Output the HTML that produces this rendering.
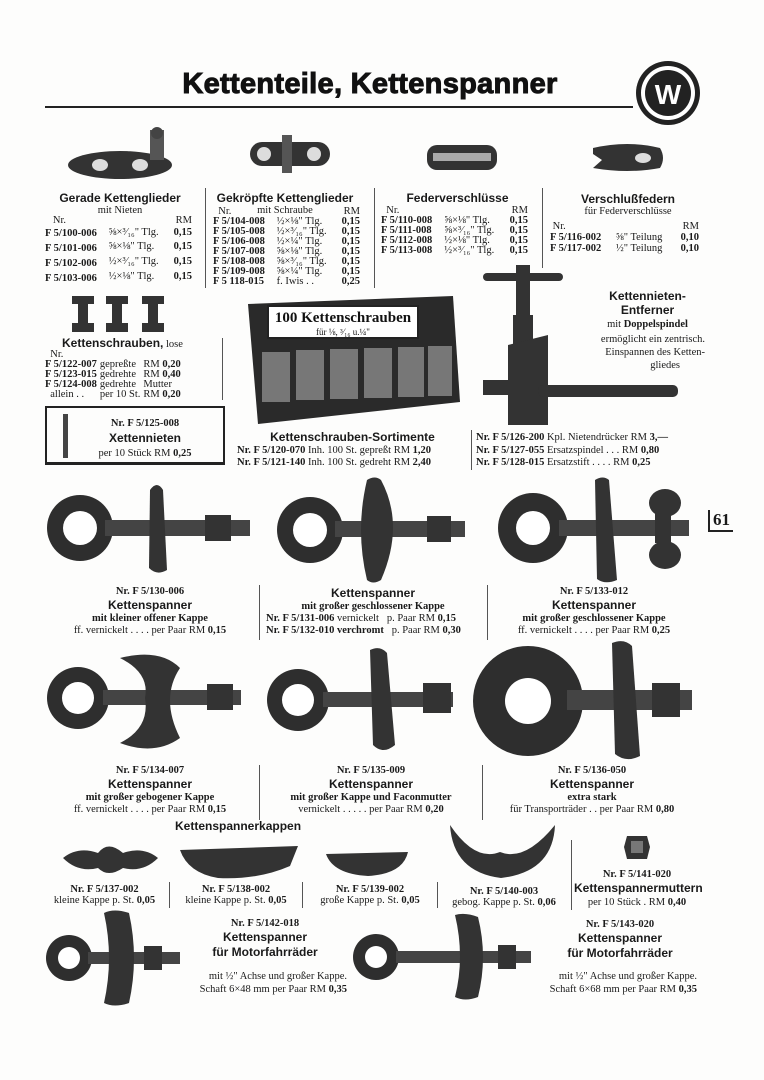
<!DOCTYPE html>
<html><head><meta charset="utf-8"><style>
body{margin:0;background:#fff;}
#p{position:relative;width:764px;height:1080px;overflow:hidden;background:#fdfdfc;font-family:"Liberation Serif",serif;color:#1a1a1a;}
.a{position:absolute;white-space:nowrap;font-size:10.5px;line-height:11px;}
.c{text-align:center;}
.h{font-family:"Liberation Sans",sans-serif;font-weight:bold;font-size:12px;line-height:14px;}
.b{font-weight:bold;}
.v{position:absolute;width:1px;background:#555;}
table{border-collapse:collapse;font-size:10.5px;line-height:11px;}
td{padding:0 3px 0 0;white-space:nowrap;}
svg{position:absolute;}
</style></head><body><div id="p">

<div class="a" style="left:170px;top:66px;width:400px;text-align:center;font-family:'Liberation Sans',sans-serif;font-weight:bold;font-size:29px;line-height:36px;color:#111;letter-spacing:0.3px;-webkit-text-stroke:1px #111;">Kettenteile, Kettenspanner</div>
<div style="position:absolute;left:45px;top:106px;width:588px;height:2px;background:#222"></div>
<svg style="left:634px;top:60px" width="70" height="70"><circle cx="34" cy="33" r="32" fill="#222"/><circle cx="34" cy="33" r="27" fill="#fff"/><circle cx="34" cy="33" r="23" fill="#222"/><text x="34" y="44" text-anchor="middle" font-family="Liberation Sans" font-weight="bold" font-size="28" fill="#fff">W</text></svg>

<svg style="left:60px;top:125px" width="120" height="60"><ellipse cx="60" cy="40" rx="52" ry="14" fill="#333"/><ellipse cx="40" cy="40" rx="8" ry="6" fill="#ddd"/><ellipse cx="80" cy="40" rx="8" ry="6" fill="#ddd"/><rect x="90" y="5" width="14" height="30" fill="#555"/><circle cx="97" cy="8" r="6" fill="#444"/></svg>
<svg style="left:242px;top:130px" width="95" height="50"><rect x="8" y="12" width="80" height="24" rx="12" fill="#333"/><circle cx="22" cy="24" r="7" fill="#ddd"/><circle cx="72" cy="24" r="7" fill="#ddd"/><rect x="40" y="5" width="10" height="38" fill="#555"/></svg>
<svg style="left:425px;top:140px" width="75" height="35"><rect x="2" y="5" width="70" height="25" rx="10" fill="#333"/><rect x="8" y="13" width="58" height="8" fill="#aaa"/></svg>
<svg style="left:588px;top:140px" width="80" height="35"><path d="M5 8 Q40 0 72 8 Q78 18 72 28 Q40 34 5 28 L14 20 L5 14 Z" fill="#333"/><ellipse cx="55" cy="18" rx="8" ry="5" fill="#ddd"/></svg>

<div class="v" style="left:205px;top:188px;height:100px"></div>
<div class="v" style="left:374px;top:188px;height:100px"></div>
<div class="v" style="left:542px;top:188px;height:80px"></div>

<div class="a c" style="left:45px;top:191px;width:150px"><span class="h">Gerade Kettenglieder</span><br>mit Nieten</div>
<table class="a" style="left:45px;top:215px;width:150px"><tr><td>&nbsp;&nbsp;&nbsp;Nr.</td><td></td><td style="text-align:right">RM</td></tr>
<tr><td class="b" style="padding-top:2px">F 5/100-006</td><td>⅝×³⁄₁₆" Tlg.</td><td class="b" style="text-align:right">0,15</td></tr>
<tr><td class="b" style="padding-top:4px">F 5/101-006</td><td>⅝×⅛" Tlg.</td><td class="b" style="text-align:right">0,15</td></tr>
<tr><td class="b" style="padding-top:4px">F 5/102-006</td><td>½×³⁄₁₆" Tlg.</td><td class="b" style="text-align:right">0,15</td></tr>
<tr><td class="b" style="padding-top:4px">F 5/103-006</td><td>½×⅛" Tlg.</td><td class="b" style="text-align:right">0,15</td></tr></table>

<div class="a c" style="left:210px;top:191px;width:150px"><span class="h">Gekröpfte Kettenglieder</span><br>mit Schraube</div>
<table class="a" style="left:213px;top:207px;line-height:10px;width:150px"><tr><td>&nbsp;&nbsp;Nr.</td><td></td><td style="text-align:right">RM</td></tr>
<tr><td class="b">F 5/104-008</td><td>½×⅛" Tlg.</td><td class="b" style="text-align:right">0,15</td></tr>
<tr><td class="b">F 5/105-008</td><td>½×³⁄₁₆" Tlg.</td><td class="b" style="text-align:right">0,15</td></tr>
<tr><td class="b">F 5/106-008</td><td>½×¼" Tlg.</td><td class="b" style="text-align:right">0,15</td></tr>
<tr><td class="b">F 5/107-008</td><td>⅝×⅛" Tlg.</td><td class="b" style="text-align:right">0,15</td></tr>
<tr><td class="b">F 5/108-008</td><td>⅝×³⁄₁₆" Tlg.</td><td class="b" style="text-align:right">0,15</td></tr>
<tr><td class="b">F 5/109-008</td><td>⅝×¼" Tlg.</td><td class="b" style="text-align:right">0,15</td></tr>
<tr><td class="b">F 5 118-015</td><td>f. Iwis . .</td><td class="b" style="text-align:right">0,25</td></tr></table>

<div class="a c" style="left:380px;top:191px;width:155px"><span class="h">Federverschlüsse</span></div>
<table class="a" style="left:381px;top:206px;line-height:10px;width:150px"><tr><td>&nbsp;&nbsp;Nr.</td><td></td><td style="text-align:right">RM</td></tr>
<tr><td class="b">F 5/110-008</td><td>⅝×⅛" Tlg.</td><td class="b" style="text-align:right">0,15</td></tr>
<tr><td class="b">F 5/111-008</td><td>⅝×³⁄₁₆" Tlg.</td><td class="b" style="text-align:right">0,15</td></tr>
<tr><td class="b">F 5/112-008</td><td>½×⅛" Tlg.</td><td class="b" style="text-align:right">0,15</td></tr>
<tr><td class="b">F 5/113-008</td><td>½×³⁄₁₆" Tlg.</td><td class="b" style="text-align:right">0,15</td></tr></table>

<div class="a c" style="left:548px;top:192px;width:160px"><span class="h">Verschlußfedern</span><br>für Federverschlüsse</div>
<table class="a" style="left:550px;top:221px;width:152px"><tr><td>&nbsp;Nr.</td><td></td><td style="text-align:right">RM</td></tr>
<tr><td class="b">F 5/116-002</td><td>⅝" Teilung</td><td class="b" style="text-align:right">0,10</td></tr>
<tr><td class="b">F 5/117-002</td><td>½" Teilung</td><td class="b" style="text-align:right">0,10</td></tr></table>

<svg style="left:68px;top:293px" width="100" height="42"><g fill="#333"><rect x="4" y="3" width="22" height="8"/><rect x="10" y="11" width="10" height="22"/><rect x="4" y="30" width="22" height="9"/><rect x="38" y="3" width="22" height="8"/><rect x="44" y="11" width="10" height="22"/><rect x="38" y="30" width="22" height="9"/><rect x="74" y="3" width="22" height="8"/><rect x="80" y="11" width="10" height="22"/><rect x="74" y="30" width="22" height="9"/></g></svg>
<div class="a" style="left:62px;top:336px"><span class="h">Kettenschrauben,</span> lose</div>
<div class="v" style="left:222px;top:338px;height:62px"></div>
<table class="a" style="left:45px;top:350px;line-height:10px"><tr><td>&nbsp;&nbsp;Nr.</td></tr>
<tr><td class="b">F 5/122-007</td><td>gepreßte</td><td>RM <b>0,20</b></td></tr>
<tr><td class="b">F 5/123-015</td><td>gedrehte</td><td>RM <b>0,40</b></td></tr>
<tr><td class="b">F 5/124-008</td><td>gedrehte</td><td>Mutter</td></tr>
<tr><td>&nbsp;&nbsp;allein . .</td><td>per 10 St.</td><td>RM <b>0,20</b></td></tr></table>
<div style="position:absolute;left:45px;top:406px;width:176px;height:54px;border:2px solid #222;border-bottom-width:3px"></div>
<div style="position:absolute;left:63px;top:414px;width:5px;height:44px;background:#444"></div>
<div class="a c" style="left:75px;top:417px;width:140px;line-height:14px"><b>Nr. F 5/125-008</b><br><span class="h">Xettennieten</span><br>per 10 Stück RM <b>0,25</b></div>

<svg style="left:238px;top:292px" width="225" height="140"><path d="M10 12 L215 4 L222 110 L20 132 Z" fill="#2a2a2a"/><rect x="30" y="14" width="150" height="32" fill="#fff" stroke="#222" stroke-width="2"/><text x="105" y="30" text-anchor="middle" font-family="Liberation Serif" font-weight="bold" font-size="15" fill="#111">100 Kettenschrauben</text><text x="105" y="43" text-anchor="middle" font-family="Liberation Serif" font-size="9" fill="#111">für ⅛, ³⁄₁₆ u.¼"</text><g fill="#777"><rect x="24" y="60" width="28" height="50"/><rect x="58" y="58" width="28" height="50"/><rect x="92" y="57" width="28" height="50"/><rect x="126" y="56" width="28" height="50"/><rect x="160" y="55" width="26" height="50"/><rect x="190" y="54" width="24" height="50"/></g></svg>
<div class="a c" style="left:235px;top:430px;width:235px"><span class="h">Kettenschrauben-Sortimente</span></div>
<div class="a" style="left:237px;top:445px;line-height:12px"><b>Nr. F 5/120-070</b> Inh. 100 St. gepreßt RM <b>1,20</b><br><b>Nr. F 5/121-140</b> Inh. 100 St. gedreht RM <b>2,40</b></div>
<div class="v" style="left:471px;top:430px;height:40px"></div>

<svg style="left:478px;top:265px" width="210" height="170"><g fill="#333"><rect x="5" y="8" width="80" height="8" rx="4"/><rect x="38" y="0" width="14" height="50"/><rect x="35" y="50" width="20" height="40"/><path d="M30 80 L70 70 L70 160 L30 160 Z"/><rect x="60" y="120" width="140" height="12" rx="5"/><rect x="5" y="115" width="40" height="15"/></g></svg>
<div class="a c" style="left:590px;top:290px;width:115px;line-height:13px"><span class="h" style="line-height:13px">Kettennieten-<br>Entferner</span><br>mit <b>Doppelspindel</b></div>
<div class="a" style="left:600px;top:333px;width:105px;line-height:13px;text-align:right">ermöglicht ein zentrisch.<br>Einspannen des Ketten-<br><span style="margin-right:25px">gliedes</span></div>
<div class="a" style="left:476px;top:432px;line-height:12.5px"><b>Nr. F 5/126-200</b> Kpl. Nietendrücker RM <b>3,—</b><br><b>Nr. F 5/127-055</b> Ersatzspindel . . . RM <b>0,80</b><br><b>Nr. F 5/128-015</b> Ersatzstift . . . . RM <b>0,25</b></div>

<div class="a" style="left:708px;top:510px;font-family:'Liberation Serif';font-weight:bold;font-size:17px;line-height:20px;border-left:2px solid #222;border-bottom:2px solid #222;padding:0 3px">61</div>

<svg style="left:45px;top:480px" width="210" height="100"><circle cx="35" cy="48" r="33" fill="#2e2e2e"/><circle cx="35" cy="48" r="17" fill="#fff"/><rect x="60" y="40" width="145" height="16" fill="#444"/><path d="M105 10 Q112 0 118 10 L122 90 Q112 96 104 88 Z" fill="#333"/><rect x="160" y="35" width="26" height="26" fill="#333"/></svg>
<svg style="left:275px;top:475px" width="195" height="110"><circle cx="35" cy="55" r="33" fill="#2e2e2e"/><circle cx="35" cy="55" r="17" fill="#fff"/><rect x="60" y="46" width="130" height="16" fill="#444"/><path d="M92 5 Q100 0 106 5 Q130 50 106 105 Q98 110 92 105 Q80 55 92 5 Z" fill="#333"/><rect x="152" y="41" width="24" height="26" fill="#333"/></svg>
<svg style="left:495px;top:475px" width="200" height="110"><circle cx="38" cy="53" r="35" fill="#2e2e2e"/><circle cx="38" cy="53" r="17" fill="#fff"/><rect x="64" y="45" width="130" height="16" fill="#444"/><path d="M100 5 Q108 0 114 5 L122 105 Q110 110 102 104 Z" fill="#333"/><ellipse cx="170" cy="28" rx="16" ry="14" fill="#333"/><ellipse cx="170" cy="80" rx="16" ry="14" fill="#333"/><rect x="160" y="38" width="16" height="30" fill="#333"/></svg>

<div class="v" style="left:259px;top:585px;height:55px"></div>
<div class="v" style="left:487px;top:585px;height:55px"></div>
<div class="a c" style="left:45px;top:586px;width:210px;line-height:12px"><b>Nr. F 5/130-006</b><br><span class="h">Kettenspanner</span><br><b>mit kleiner offener Kappe</b><br>ff. vernickelt . . . . per Paar RM <b>0,15</b></div>
<div class="a c" style="left:262px;top:586px;width:222px;line-height:12px"><span class="h">Kettenspanner</span><br><b>mit großer geschlossener Kappe</b><br><span style="text-align:left;display:block;padding-left:4px"><b>Nr. F 5/131-006</b> vernickelt &nbsp; p. Paar RM <b>0,15</b><br><b>Nr. F 5/132-010 verchromt</b> &nbsp; p. Paar RM <b>0,30</b></span></div>
<div class="a c" style="left:488px;top:586px;width:212px;line-height:12px"><b>Nr. F 5/133-012</b><br><span class="h">Kettenspanner</span><br><b>mit großer geschlossener Kappe</b><br>ff. vernickelt . . . . per Paar RM <b>0,25</b></div>

<svg style="left:45px;top:648px" width="200" height="108"><circle cx="33" cy="50" r="31" fill="#2e2e2e"/><circle cx="33" cy="50" r="16" fill="#fff"/><rect x="58" y="42" width="138" height="15" fill="#444"/><path d="M75 10 Q115 0 135 20 Q115 50 135 90 Q110 108 75 95 Q105 80 100 50 Q105 25 75 10 Z" fill="#333"/><rect x="162" y="36" width="26" height="26" fill="#333"/></svg>
<svg style="left:265px;top:645px" width="200" height="110"><circle cx="33" cy="55" r="31" fill="#2e2e2e"/><circle cx="33" cy="55" r="16" fill="#fff"/><rect x="58" y="47" width="130" height="15" fill="#444"/><path d="M105 5 Q115 0 122 8 L130 100 Q118 110 108 100 Z" fill="#333"/><rect x="158" y="38" width="28" height="30" fill="#333"/></svg>
<svg style="left:472px;top:638px" width="225" height="125"><circle cx="56" cy="63" r="55" fill="#2e2e2e"/><circle cx="56" cy="63" r="23" fill="#fff"/><rect x="95" y="52" width="125" height="20" fill="#444"/><path d="M140 5 Q152 0 160 8 L168 118 Q154 125 143 116 Z" fill="#333"/><rect x="180" y="45" width="28" height="34" fill="#333"/></svg>

<div class="v" style="left:259px;top:765px;height:55px"></div>
<div class="v" style="left:482px;top:765px;height:55px"></div>
<div class="a c" style="left:45px;top:765px;width:210px;line-height:12px"><b>Nr. F 5/134-007</b><br><span class="h">Kettenspanner</span><br><b>mit großer gebogener Kappe</b><br>ff. vernickelt . . . . per Paar RM <b>0,15</b></div>
<div class="a c" style="left:262px;top:765px;width:218px;line-height:12px"><b>Nr. F 5/135-009</b><br><span class="h">Kettenspanner</span><br><b>mit großer Kappe und Faconmutter</b><br>vernickelt . . . . . per Paar RM <b>0,20</b></div>
<div class="a c" style="left:484px;top:765px;width:216px;line-height:12px"><b>Nr. F 5/136-050</b><br><span class="h">Kettenspanner</span><br><b>extra stark</b><br>für Transporträder . . per Paar RM <b>0,80</b></div>

<div class="a h" style="left:175px;top:819px">Kettenspannerkappen</div>

<svg style="left:58px;top:838px" width="450" height="45"><path d="M5 20 Q20 8 40 15 Q50 2 65 15 Q85 8 100 20 Q85 35 65 30 Q50 40 40 30 Q20 35 5 20 Z" fill="#333"/><path d="M122 12 L240 8 L232 28 Q200 42 160 40 Q130 35 122 12 Z" fill="#333"/><path d="M268 16 L350 14 Q345 36 310 38 Q275 36 268 16 Z" fill="#333"/></svg>
<svg style="left:445px;top:822px" width="115" height="60"><path d="M5 3 Q30 40 55 30 Q80 40 110 3 Q108 50 56 56 Q8 50 5 3 Z" fill="#333"/></svg>
<svg style="left:622px;top:832px" width="30" height="30"><path d="M5 4 H25 L28 15 L25 27 H5 L2 15 Z" fill="#333"/><rect x="9" y="9" width="12" height="12" fill="#777"/></svg>

<div class="v" style="left:169px;top:882px;height:26px"></div>
<div class="v" style="left:302px;top:882px;height:26px"></div>
<div class="v" style="left:437px;top:882px;height:26px"></div>
<div class="v" style="left:571px;top:840px;height:70px"></div>
<div class="a c" style="left:42px;top:884px;width:125px"><b>Nr. F 5/137-002</b><br>kleine Kappe p. St. <b>0,05</b></div>
<div class="a c" style="left:172px;top:884px;width:128px"><b>Nr. F 5/138-002</b><br>kleine Kappe p. St. <b>0,05</b></div>
<div class="a c" style="left:305px;top:884px;width:130px"><b>Nr. F 5/139-002</b><br>große Kappe p. St. <b>0,05</b></div>
<div class="a c" style="left:438px;top:886px;width:132px"><b>Nr. F 5/140-003</b><br>gebog. Kappe p. St. <b>0,06</b></div>
<div class="a c" style="left:574px;top:868px;width:126px;line-height:13px"><b>Nr. F 5/141-020</b><br><span class="h">Kettenspannermuttern</span><br>per 10 Stück . RM <b>0,40</b></div>

<svg style="left:44px;top:908px" width="140" height="100"><circle cx="25" cy="50" r="23" fill="#2e2e2e"/><circle cx="25" cy="50" r="11" fill="#fff"/><rect x="44" y="44" width="92" height="12" fill="#444"/><path d="M60 5 Q70 0 85 5 Q95 50 85 95 Q70 100 60 95 Q70 50 60 5 Z" fill="#333"/><rect x="100" y="38" width="18" height="24" fill="#333"/></svg>
<svg style="left:350px;top:912px" width="185" height="90"><circle cx="26" cy="45" r="23" fill="#2e2e2e"/><circle cx="26" cy="45" r="11" fill="#fff"/><rect x="46" y="39" width="135" height="12" fill="#444"/><path d="M105 3 Q115 0 128 5 Q138 45 128 85 Q115 90 105 85 Q115 45 105 3 Z" fill="#333"/><rect x="148" y="33" width="18" height="24" fill="#333"/></svg>
<div class="a c" style="left:175px;top:917px;width:180px;line-height:13px"><b>Nr. F 5/142-018</b><br><span class="h" style="line-height:15px">Kettenspanner<br>für Motorfahrräder</span></div>
<div class="a" style="left:187px;top:970px;line-height:13px;text-align:right;width:160px">mit ½" Achse und großer Kappe.<br>Schaft 6×48 mm per Paar RM <b>0,35</b></div>
<div class="a c" style="left:535px;top:918px;width:170px;line-height:13px"><b>Nr. F 5/143-020</b><br><span class="h" style="line-height:15px">Kettenspanner<br>für Motorfahrräder</span></div>
<div class="a" style="left:537px;top:970px;line-height:13px;text-align:right;width:160px">mit ½" Achse und großer Kappe.<br>Schaft 6×68 mm per Paar RM <b>0,35</b></div>

</div></body></html>
